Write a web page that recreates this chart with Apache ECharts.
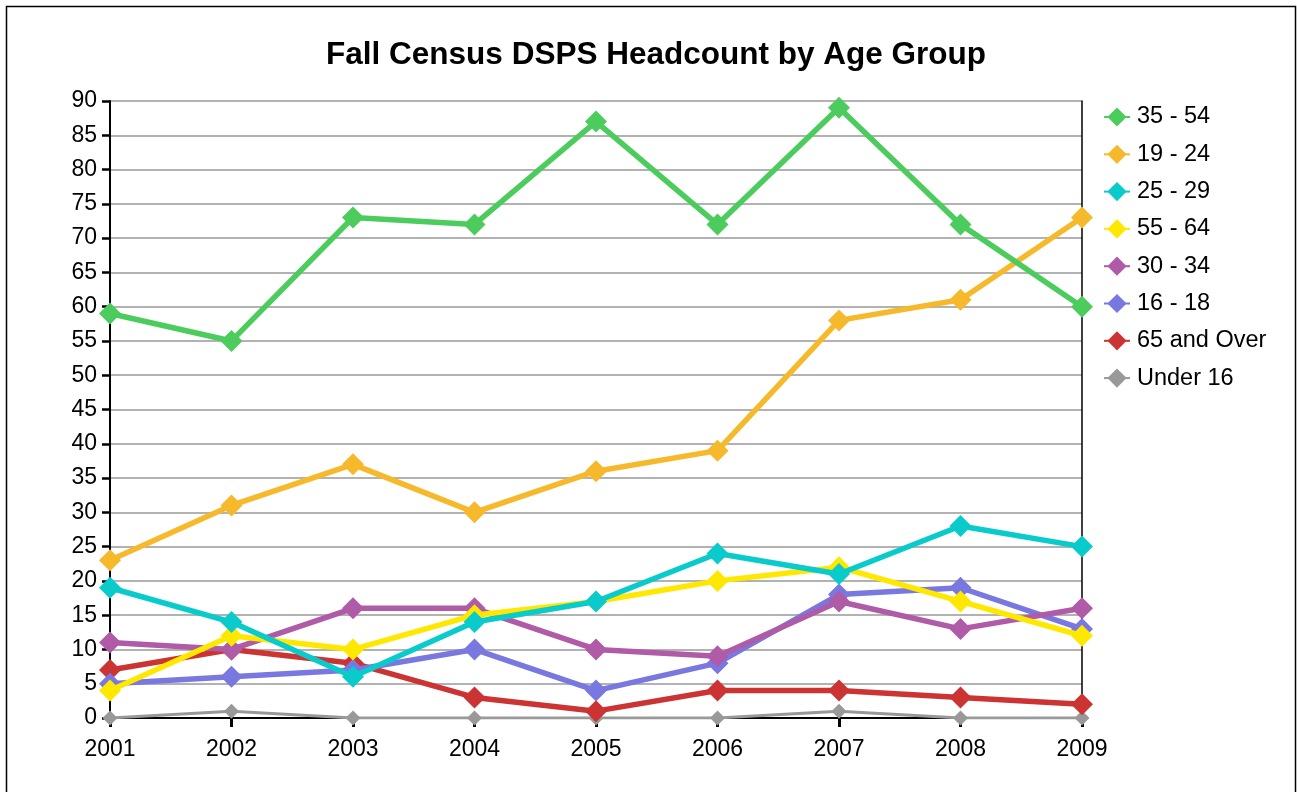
<!DOCTYPE html>
<html>
<head>
<meta charset="utf-8">
<script src="https://cdn.jsdelivr.net/npm/echarts@6/dist/echarts.min.js"></script>
<style>
  html, body { margin: 0; padding: 0; background: #fff; }
  #chart { width: 1297px; height: 792px; }
</style>
</head>
<body>
<div id="chart"></div>
<script>
// data
var years = ['2001', '2002', '2003', '2004', '2005', '2006', '2007', '2008', '2009'];
var age35to54 = [59, 55, 73, 72, 87, 72, 89, 72, 60];
var age19to24 = [23, 31, 37, 30, 36, 39, 58, 61, 73];
var age25to29 = [19, 14, 6, 14, 17, 24, 21, 28, 25];
var age55to64 = [4, 12, 10, 15, 17, 20, 22, 17, 12];
var age30to34 = [11, 10, 16, 16, 10, 9, 17, 13, 16];
var age16to18 = [5, 6, 7, 10, 4, 8, 18, 19, 13];
var age65plus = [7, 10, 8, 3, 1, 4, 4, 3, 2];
var under16 = [0, 1, 0, 0, 0, 0, 1, 0, 0];

var groups = [
  { name: '35 - 54', data: age35to54, color: '#4dcc5e' },
  { name: '19 - 24', data: age19to24, color: '#f6b92b' },
  { name: '25 - 29', data: age25to29, color: '#0acbcb' },
  { name: '55 - 64', data: age55to64, color: '#ffe800' },
  { name: '30 - 34', data: age30to34, color: '#b05ba7' },
  { name: '16 - 18', data: age16to18, color: '#7878e0' },
  { name: '65 and Over', data: age65plus, color: '#cc3333' },
  { name: 'Under 16', data: under16, color: '#999999' }
];

var chart = echarts.init(document.getElementById('chart'));

var series = groups.map(function (g, i) {
  var thin = g.name === 'Under 16';
  return {
    name: g.name,
    type: 'line',
    data: g.data,
    symbol: 'diamond',
    symbolSize: thin ? 15 : 22,
    color: g.color,
    lineStyle: { width: thin ? 3 : 5.5, color: g.color },
    itemStyle: { color: g.color },
    z: 10 - i,
    animation: false
  };
});

chart.setOption({
  animation: false,
  textStyle: { fontFamily: 'Liberation Sans, Arial, sans-serif' },
  title: {
    text: 'Fall Census DSPS Headcount by Age Group',
    left: 651,
    textAlign: 'center',
    top: 34,
    textStyle: { fontSize: 31.5, fontWeight: 'bold', color: '#000' }
  },
  graphic: [{
    type: 'rect',
    shape: { x: 6.5, y: 6.5, width: 1289, height: 820 },
    style: { fill: 'none', stroke: '#000', lineWidth: 1.5 },
    silent: true
  }],
  legend: {
    orient: 'vertical',
    left: 1098,
    top: 100,
    itemGap: 13.3,
    itemWidth: 26,
    itemHeight: 24,
    textStyle: { fontSize: 23.5, color: '#000', padding: [0, 0, 0, 2] },
    data: groups.map(function (g) { return g.name; })
  },
  grid: { left: 110, right: 215, top: 101, bottom: 74 },
  xAxis: {
    type: 'category',
    boundaryGap: false,
    data: years,
    axisLine: { lineStyle: { color: '#000', width: 2 } },
    axisTick: { show: true, length: 9, lineStyle: { color: '#000', width: 3 } },
    axisLabel: { fontSize: 23, color: '#000', margin: 20 },
    splitLine: { show: false }
  },
  yAxis: [{
    type: 'value',
    min: 0,
    max: 90,
    interval: 5,
    axisLine: { show: true, lineStyle: { color: '#000', width: 2 } },
    axisTick: { show: true, length: 8, lineStyle: { color: '#000', width: 2.5 } },
    axisLabel: { fontSize: 23, color: '#000', margin: 13 },
    splitLine: { show: true, lineStyle: { color: '#999', width: 1.5 } }
  }, {
    type: 'value',
    position: 'right',
    min: 0,
    max: 90,
    interval: 5,
    axisLine: { show: true, lineStyle: { color: '#000', width: 1.5 } },
    axisTick: { show: false },
    axisLabel: { show: false },
    splitLine: { show: false }
  }],
  series: series
});
</script>
</body>
</html>
